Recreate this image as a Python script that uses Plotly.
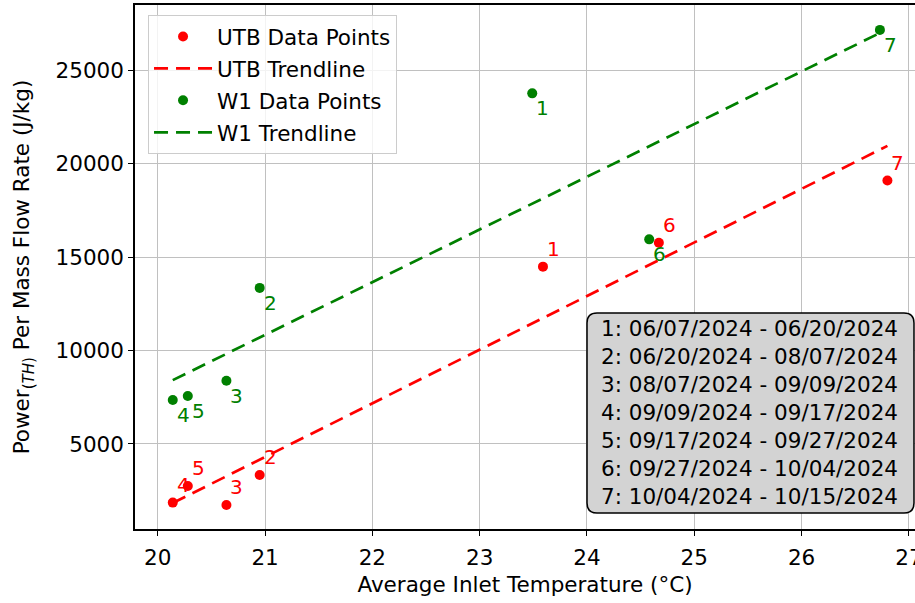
import numpy as np
import plotly.graph_objects as go

# ---- data ----
labels = ["1", "2", "3", "4", "5", "6", "7"]
utb_temp = [23.59, 20.95, 20.64, 20.14, 20.28, 24.67, 26.80]
utb_power = [14500, 3340, 1730, 1860, 2750, 15780, 19110]
w1_temp = [23.49, 20.95, 20.64, 20.14, 20.28, 24.58, 26.73]
w1_power = [23780, 13360, 8390, 7360, 7570, 15960, 27180]
date_ranges = [
    "06/07/2024 - 06/20/2024",
    "06/20/2024 - 08/07/2024",
    "08/07/2024 - 09/09/2024",
    "09/09/2024 - 09/17/2024",
    "09/17/2024 - 09/27/2024",
    "09/27/2024 - 10/04/2024",
    "10/04/2024 - 10/15/2024",
]
x_ticks = [20, 21, 22, 23, 24, 25, 26, 27]
y_ticks = [5000, 10000, 15000, 20000, 25000]

RED = "#ff0000"
GREEN = "#008000"
FONT = "DejaVu Sans"
FS = 21.5


def trend(xs, ys):
    m, b = np.polyfit(xs, ys, 1)
    xx = np.array([min(xs), max(xs)])
    return xx, m * xx + b


fig = go.Figure()

ux, uy = trend(utb_temp, utb_power)
wx, wy = trend(w1_temp, w1_power)

fig.add_trace(go.Scatter(x=utb_temp, y=utb_power, mode="markers", name="UTB Data Points",
                         marker=dict(color=RED, size=10), legendgroup="a"))
fig.add_trace(go.Scatter(x=ux, y=uy, mode="lines", name="UTB Trendline",
                         line=dict(color=RED, width=2.7, dash="14px,8px"), legendgroup="b"))
fig.add_trace(go.Scatter(x=w1_temp, y=w1_power, mode="markers", name="W1 Data Points",
                         marker=dict(color=GREEN, size=10), legendgroup="c"))
fig.add_trace(go.Scatter(x=wx, y=wy, mode="lines", name="W1 Trendline",
                         line=dict(color=GREEN, width=2.7, dash="14px,8px"), legendgroup="d"))

annotations = []
for t, p, lab in zip(utb_temp, utb_power, labels):
    annotations.append(dict(x=t, y=p, text=lab, showarrow=False, xanchor="left", yanchor="bottom",
                            xshift=2, yshift=4, font=dict(family=FONT, size=20, color=RED)))
for t, p, lab in zip(w1_temp, w1_power, labels):
    annotations.append(dict(x=t, y=p, text=lab, showarrow=False, xanchor="left", yanchor="top",
                            xshift=2, yshift=-1, font=dict(family=FONT, size=20, color=GREEN)))

box_text = "<br>".join(f"{lab}: {d}" for lab, d in zip(labels, date_ranges))
annotations.append(dict(x=0.7878, y=0.2223, xref="paper", yref="paper", text=box_text,
                        showarrow=False, xanchor="center", yanchor="middle", align="left",
                        font=dict(family=FONT, size=FS, color="black")))

# rounded box behind the date text (paper coordinates)
x0, x1, y0, y1 = 0.5795, 0.9987, 0.0305, 0.412
rx, ry = 10 / 780, 10 / 524
path = (f"M {x0+rx},{y0} L {x1-rx},{y0} Q {x1},{y0} {x1},{y0+ry} L {x1},{y1-ry} "
        f"Q {x1},{y1} {x1-rx},{y1} L {x0+rx},{y1} Q {x0},{y1} {x0},{y1-ry} "
        f"L {x0},{y0+ry} Q {x0},{y0} {x0+rx},{y0} Z")
shapes = [dict(type="path", path=path, xref="paper", yref="paper",
               fillcolor="#d3d3d3", line=dict(color="black", width=1.5), layer="above")]

fig.update_layout(
    width=915, height=603,
    margin=dict(l=135, r=0, t=5, b=74, autoexpand=False),
    paper_bgcolor="white", plot_bgcolor="white",
    font=dict(family=FONT, size=FS, color="black"),
    annotations=annotations,
    shapes=shapes,
    showlegend=True,
    legend=dict(x=0.0167, y=0.981, xanchor="left", yanchor="top",
                bgcolor="rgba(255,255,255,0.8)", bordercolor="#cccccc", borderwidth=1,
                font=dict(family=FONT, size=FS, color="black"), tracegroupgap=1,
                itemwidth=58),
    xaxis=dict(range=[19.788, 27.057], tickvals=x_ticks, ticktext=[str(v) for v in x_ticks],
               showgrid=True, gridcolor="#c0c0c0", automargin=False, ticklabeloverflow="allow",
               gridwidth=1.3, zeroline=False, showline=True, linecolor="black", linewidth=1.5,
               mirror=True, ticks="outside", ticklen=5, tickcolor="black", tickwidth=1.3,
               ticklabelstandoff=3,
               title=dict(text="Average Inlet Temperature (°C)", standoff=8,
                          font=dict(family=FONT, size=FS)),
               tickfont=dict(family=FONT, size=FS)),
    yaxis=dict(range=[447, 28513], tickvals=y_ticks, ticktext=[str(v) for v in y_ticks],
               showgrid=True, gridcolor="#c0c0c0", automargin=False, ticklabeloverflow="allow",
               gridwidth=1.3, zeroline=False, showline=True, linecolor="black", linewidth=1.5,
               ticks="outside", ticklen=5, tickcolor="black", tickwidth=1.3,
               title=dict(text="Power<sub>(<i>TH</i>)</sub> Per Mass Flow Rate (J/kg)", standoff=20,
                          font=dict(family=FONT, size=FS)),
               tickfont=dict(family=FONT, size=FS)),
)

fig.write_html("out.html", post_script="document.body.style.margin='0px';",
               config={"displayModeBar": False})
